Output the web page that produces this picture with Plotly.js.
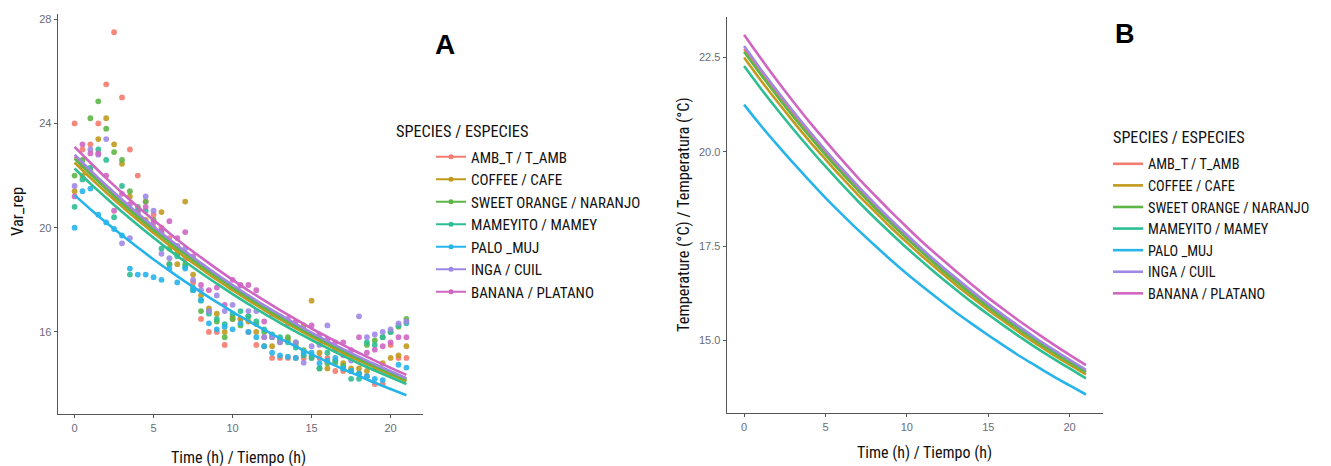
<!DOCTYPE html>
<html><head><meta charset="utf-8">
<script src="https://cdn.plot.ly/plotly-3.0.1.min.js"></script>
<style>html,body{margin:0;padding:0;background:#fff}#chart{width:1331px;height:466px}</style>
</head><body><div id="chart"></div>
<script>
const species = ["AMB_T / T_AMB","COFFEE / CAFE","SWEET ORANGE / NARANJO","MAMEYITO / MAMEY","PALO _MUJ","INGA / CUIL","BANANA / PLATANO"];
const colors = ["#F37B6F","#C29A1E","#5DB646","#2DBE93","#27B4EA","#9E88E6","#D066C2"];

const obsTimes = [0,0.5,1,1.5,2,2.5,3,3.5,4,4.5,5,5.5,6,6.5,7,7.5,8,8.5,9,9.5,10,10.5,11,11.5,12,12.5,13,13.5,14,14.5,15,15.5,16,16.5,17,17.5,18,18.5,19,19.5,20,20.5,21];
const obsAmb = [24.0,23.0,23.2,24.0,25.5,27.5,25.0,23.0,22.0,21.0,20.5,20.0,19.6,19.2,18.8,17.9,16.5,16.0,16.0,15.5,16.5,16.5,16.0,15.5,15.8,15.0,15.0,15.0,15.0,15.0,15.0,15.0,15.0,14.5,14.5,14.5,14.4,14.3,14.0,14.0,15.5,15.0,15.0];
const obsCoffee = [21.4,22.0,22.2,23.4,24.2,23.2,22.45,21.2,20.4,20.3,20.0,20.6,18.6,18.6,21.0,18.2,17.4,16.9,16.7,16.0,16.6,16.5,16.4,16.0,15.45,15.45,15.6,15.7,15.5,16.25,17.2,15.2,14.6,14.9,14.8,14.6,14.6,14.5,14.6,14.8,15.0,15.1,15.45];
const obsOrange = [22.0,22.6,24.2,24.85,23.8,22.9,22.6,21.4,20.8,21.0,20.3,19.8,19.2,19.0,18.6,17.6,16.8,16.8,16.4,15.8,16.5,16.25,16.6,16.3,16.0,15.8,15.7,15.8,15.6,15.3,15.1,14.6,14.8,14.82,14.7,14.5,14.4,15.5,15.67,15.8,16.0,16.2,16.5];
const obsMamey = [20.8,21.85,22.3,23.0,22.6,20.4,21.6,18.2,20.65,20.65,19.9,19.2,18.6,18.9,18.5,17.7,17.2,16.7,16.5,16.3,16.7,16.8,16.6,16.4,16.1,15.9,15.8,15.6,15.4,15.1,15.0,14.6,15.2,14.9,14.6,14.2,14.2,15.6,15.5,15.8,16.0,16.25,16.33];
const obsPalo = [20.0,21.4,21.5,20.5,20.2,19.95,19.7,18.43,18.2,18.2,18.1,18.0,18.43,17.9,18.43,17.6,17.23,16.33,16.1,16.2,16.1,16.33,16.0,15.8,15.45,15.2,15.1,15.05,15.0,15.2,15.2,14.8,14.9,15.0,14.6,14.5,14.4,14.3,14.2,14.15,14.4,14.74,14.63];
const obsInga = [21.6,22.4,23.0,22.8,23.4,21.2,19.4,19.6,20.5,21.2,20.65,19.0,18.83,19.3,19.2,18.0,17.6,16.8,17.4,16.8,17.04,17.78,16.8,16.8,15.8,15.8,15.6,16.3,15.6,14.82,15.45,15.5,16.25,15.3,15.1,14.9,16.6,15.8,15.9,16.0,16.1,16.33,16.4];
const obsBanana = [21.2,23.2,22.85,22.85,22.0,20.65,21.3,20.9,20.6,20.8,20.2,19.9,20.25,19.6,19.83,18.9,17.8,17.6,17.7,17.04,18.0,17.8,17.8,17.6,16.4,16.7,16.6,16.5,16.4,16.1,16.25,15.9,15.7,15.6,15.6,15.3,15.8,15.2,15.32,15.45,15.6,15.8,15.8];

const fitTimes = [0,1,2,3,4,5,6,7,8,9,10,11,12,13,14,15,16,17,18,19,20,21];
const fitAmb = [22.72,22.13,21.55,21.01,20.48,19.98,19.49,19.03,18.58,18.16,17.75,17.35,16.97,16.61,16.26,15.93,15.61,15.30,15.01,14.72,14.45,14.19];
const fitCoffee = [22.50,21.91,21.35,20.81,20.29,19.80,19.32,18.86,18.43,18.00,17.60,17.21,16.84,16.48,16.14,15.81,15.50,15.19,14.90,14.62,14.36,14.10];
const fitOrange = [22.65,22.06,21.49,20.94,20.42,19.92,19.44,18.98,18.53,18.11,17.70,17.31,16.93,16.57,16.22,15.89,15.57,15.27,14.97,14.69,14.42,14.16];
const fitMamey = [22.27,21.69,21.14,20.61,20.10,19.61,19.14,18.69,18.26,17.85,17.45,17.07,16.70,16.35,16.01,15.69,15.38,15.08,14.79,14.52,14.26,14.00];
const fitPalo = [21.25,20.71,20.20,19.71,19.24,18.78,18.35,17.93,17.53,17.14,16.77,16.42,16.08,15.75,15.44,15.14,14.85,14.57,14.31,14.05,13.81,13.57];
const fitInga = [22.80,22.20,21.63,21.08,20.55,20.04,19.56,19.09,18.64,18.21,17.80,17.40,17.02,16.66,16.31,15.97,15.65,15.34,15.04,14.76,14.49,14.22];
const fitBanana = [23.10,22.49,21.90,21.34,20.80,20.29,19.79,19.31,18.86,18.42,18.00,17.59,17.21,16.84,16.48,16.13,15.81,15.49,15.19,14.90,14.62,14.35];

const xTicks = [0,5,10,15,20];
const yTicksA = [16,20,24,28];
const yTicksB = [15.0,17.5,20.0,22.5];

const obsSeries = [obsAmb,obsCoffee,obsOrange,obsMamey,obsPalo,obsInga,obsBanana];
const fitSeries = [fitAmb,fitCoffee,fitOrange,fitMamey,fitPalo,fitInga,fitBanana];

const COND = "Roboto Condensed, Liberation Sans, sans-serif";
const traces = [];
obsSeries.forEach((ys,i)=>traces.push({type:'scatter',mode:'markers',x:obsTimes,y:ys,xaxis:'x',yaxis:'y',
  marker:{color:colors[i],size:5.8,opacity:0.9},showlegend:false,hoverinfo:'skip'}));
fitSeries.forEach((ys,i)=>traces.push({type:'scatter',mode:'lines',x:fitTimes,y:ys,xaxis:'x',yaxis:'y',
  line:{color:colors[i],width:2.6,shape:'spline'},showlegend:false,hoverinfo:'skip'}));
species.forEach((s,i)=>traces.push({type:'scatter',mode:'lines+markers',x:[null],y:[null],xaxis:'x',yaxis:'y',
  name:s,legend:'legend',line:{color:colors[i],width:2.2},marker:{color:colors[i],size:5}}));
fitSeries.forEach((ys,i)=>traces.push({type:'scatter',mode:'lines',x:fitTimes,y:ys,xaxis:'x2',yaxis:'y2',
  name:species[i],legend:'legend2',line:{color:colors[i],width:2.6,shape:'spline'}}));

const W=1331,H=466;
const axBase = {showgrid:false,zeroline:false,showline:true,linecolor:'#555',linewidth:1.4,
  ticks:'outside',ticklen:3,tickcolor:'#555',tickwidth:1,
  tickfont:{family:'Liberation Sans, Arial, sans-serif',size:11,color:'#6b6b7b'}};
const layout = {
  width:W,height:H,margin:{l:0,r:0,t:0,b:0},paper_bgcolor:'#fff',plot_bgcolor:'#fff',
  xaxis:Object.assign({},axBase,{domain:[58/W,423/W],range:[-1.05,22.05],tickvals:xTicks,anchor:'y'}),
  yaxis:Object.assign({},axBase,{domain:[(H-414)/H,(H-14)/H],range:[12.85,28.2],tickvals:yTicksA,anchor:'x'}),
  xaxis2:Object.assign({},axBase,{domain:[727/W,1103/W],range:[-1.05,22.05],tickvals:xTicks,anchor:'y2'}),
  yaxis2:Object.assign({},axBase,{domain:[(H-413)/H,(H-17)/H],range:[13.08,23.57],tickvals:yTicksB,tickformat:'.1f',anchor:'x2'}),
  legend:{x:431/W,xanchor:'left',y:1-140.5/H,yanchor:'top',bgcolor:'rgba(0,0,0,0)',itemwidth:30,
    font:{family:COND,size:15,color:'#111'},tracegroupgap:0},
  legend2:{x:1108/W,xanchor:'left',y:1-148/H,yanchor:'top',bgcolor:'rgba(0,0,0,0)',itemwidth:30,
    font:{family:COND,size:14.3,color:'#111'},tracegroupgap:0},
  annotations:[
    {text:'SPECIES / ESPECIES',xref:'paper',yref:'paper',x:394/W,y:1-132/H,xanchor:'left',yanchor:'middle',showarrow:false,font:{family:COND,size:16.3,color:'#111'}},
    {text:'SPECIES / ESPECIES',xref:'paper',yref:'paper',x:1111/W,y:1-137/H,xanchor:'left',yanchor:'middle',showarrow:false,font:{family:COND,size:16.2,color:'#111'}},
    {text:'<b>A</b>',xref:'paper',yref:'paper',x:445/W,y:1-44/H,xanchor:'center',yanchor:'middle',showarrow:false,font:{family:'Liberation Sans, Arial, sans-serif',size:28,color:'#000'}},
    {text:'<b>B</b>',xref:'paper',yref:'paper',x:1125/W,y:1-34/H,xanchor:'center',yanchor:'middle',showarrow:false,font:{family:'Liberation Sans, Arial, sans-serif',size:27,color:'#000'}},
    {text:'Time (h) / Tiempo (h)',xref:'paper',yref:'paper',x:238/W,y:1-457/H,xanchor:'center',yanchor:'middle',showarrow:false,font:{family:COND,size:16,color:'#111'}},
    {text:'Time (h) / Tiempo (h)',xref:'paper',yref:'paper',x:924/W,y:1-452/H,xanchor:'center',yanchor:'middle',showarrow:false,font:{family:COND,size:16,color:'#111'}},
    {text:'Var_rep',xref:'paper',yref:'paper',x:17/W,y:1-212/H,xanchor:'center',yanchor:'middle',textangle:-90,showarrow:false,font:{family:COND,size:16.5,color:'#111'}},
    {text:'Temperature (°C) / Temperatura (°C)',xref:'paper',yref:'paper',x:683/W,y:1-215/H,xanchor:'center',yanchor:'middle',textangle:-90,showarrow:false,font:{family:COND,size:16.4,color:'#111'}}
  ]
};
Plotly.newPlot('chart',traces,layout,{displayModeBar:false,staticPlot:true});
</script></body></html>
